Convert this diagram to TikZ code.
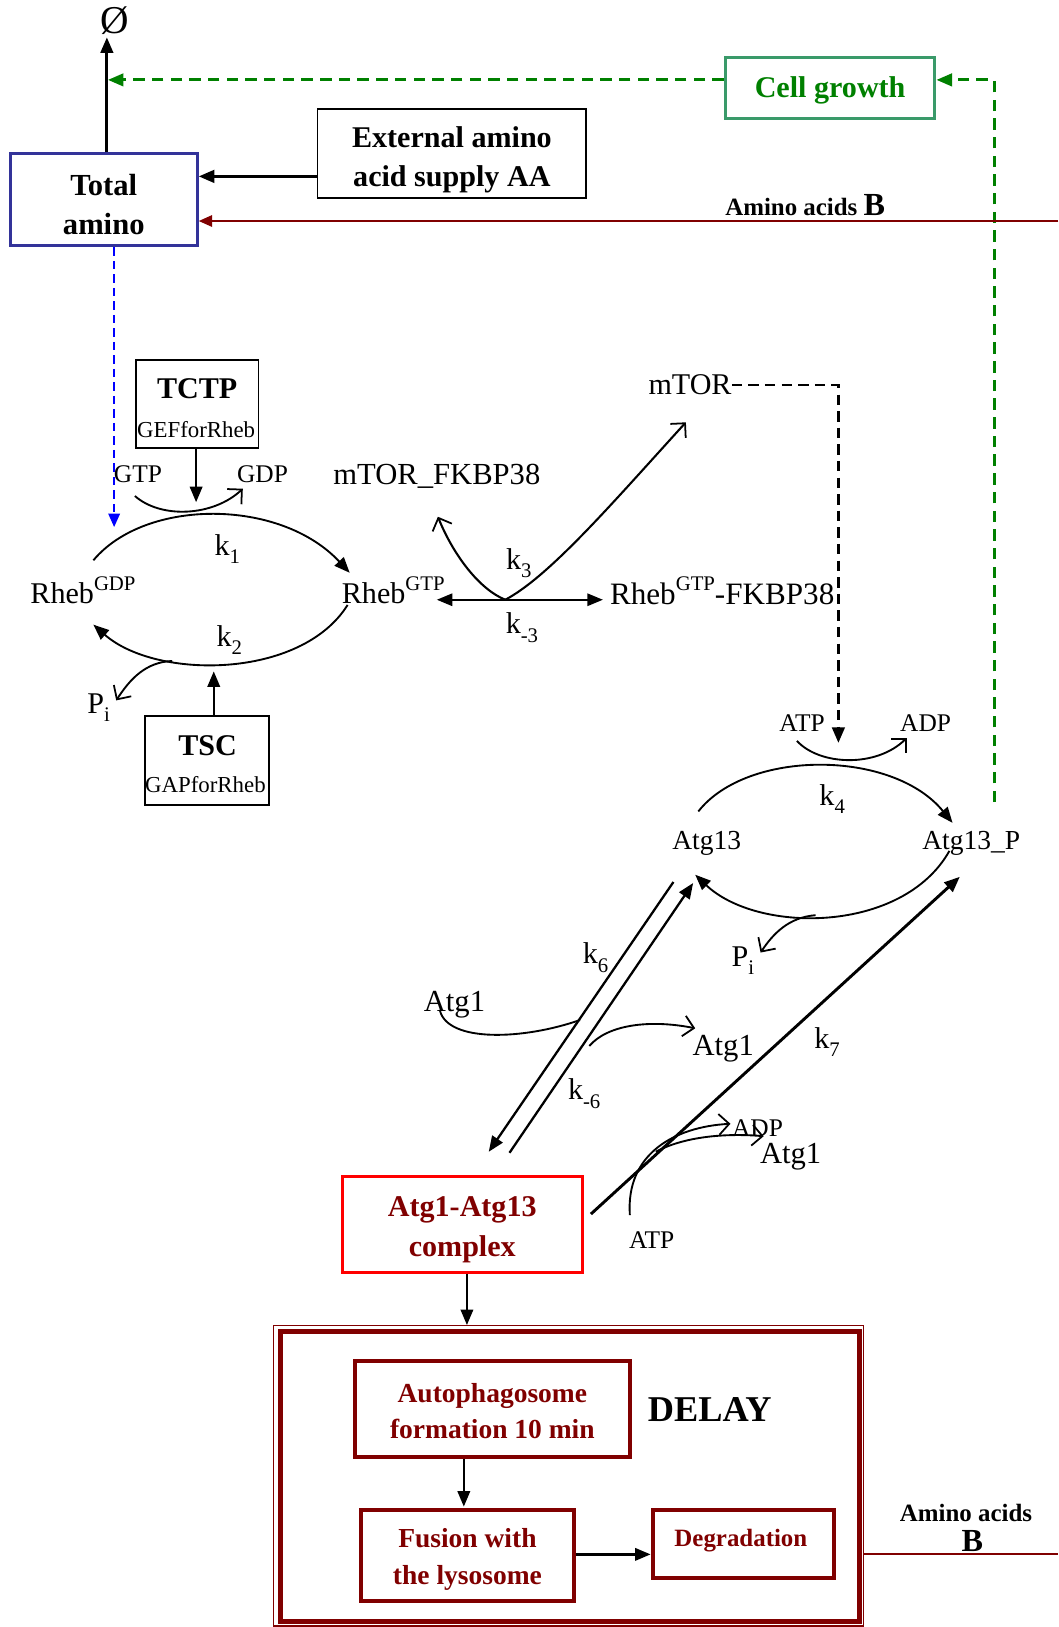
\documentclass[tikz,border=0pt]{standalone}
\usepackage{fontspec}
\setmainfont{Liberation Serif}
\usetikzlibrary{arrows.meta}
\definecolor{dred}{HTML}{800000}
\definecolor{tblue}{HTML}{333399}
\definecolor{ggreen}{HTML}{008000}
\definecolor{gbox}{HTML}{3A9A6A}
\newcommand\subs[1]{\raisebox{-0.28em}{\fontsize{20}{20}\selectfont #1}}
\newcommand\sups[1]{\raisebox{0.45em}{\fontsize{20}{20}\selectfont #1}}
\tikzset{
  lbl/.style={inner sep=0pt, font=\fontsize{29}{31}\selectfont},
  smalllbl/.style={inner sep=0pt, font=\fontsize{24.5}{26}\selectfont},
  rxn/.style={line width=1.8pt},
  filled/.style={-{Triangle[length=15pt,width=12pt]}},
  openarr/.style={-{Straight Barb[length=10pt,width=20pt,line width=1.7pt]}},
  bftext/.style={inner sep=0pt, align=center, font=\bfseries\fontsize{29}{38}\selectfont},
  enzbox/.style={draw, line width=1.6pt, inner sep=0pt},
  redbox/.style={draw=dred, inner sep=0pt, line width=4pt},
  redtext/.style={inner sep=0pt, align=center, text=dred, font=\bfseries\fontsize{26.5}{35}\selectfont},
  gdash/.style={ggreen, line width=2.8pt, dash pattern=on 11pt off 7pt, -{Triangle[length=15pt,width=12pt]}},
}
\begin{document}
\begin{tikzpicture}[x=1pt,y=-1pt]
\useasboundingbox (0,0) rectangle (1020,1568);
% ---------- top part
\node[inner sep=0pt, font=\fontsize{38}{38}\selectfont] (sink) at (111,20) {Ø};
\node[draw=tblue, line width=3pt, minimum width=180pt, minimum height=89pt, inner sep=0pt] (total) at (100,192.5) {};
\node[bftext, font=\bfseries\fontsize{29.5}{38}\selectfont] (totalT) at (100,197) {Total\\amino};
\node[draw, line width=1.8pt, minimum width=259pt, minimum height=86pt, inner sep=0pt] (ext) at (435.5,148) {};
\node[bftext, font=\bfseries\fontsize{29}{37}\selectfont] (extT) at (435.5,154) {External amino\\acid supply AA};
\node[draw=gbox, line width=3pt, minimum width=202pt, minimum height=59pt, inner sep=0pt] (cg) at (800,84.5) {};
\node[bftext, text=ggreen] (cgT) at (800,87) {Cell growth};
\coordinate (sinkfoot) at (103,36);
\draw[line width=2.8pt, filled] (total.north -| sinkfoot) -- (sinkfoot);
\draw[line width=2.8pt, filled] (ext.west |- 0,170) -- (total.east |- 0,170);
\coordinate (gtarget) at (104,77);
\draw[gdash] (cg.west |- gtarget) -- (gtarget);
\coordinate (gstart) at (958,773);
\draw[gdash] (gstart) -- (gstart |- gtarget) -- (cg.east |- gtarget);
\coordinate (redin) at (1020,213);
\draw[dred, line width=2pt, -{Triangle[length=13pt,width=11pt]}] (redin) -- (redin -| total.east);
\node[inner sep=0pt, font=\bfseries] (aab) at (776,198) {\fontsize{24}{26}\selectfont Amino acids \fontsize{31}{31}\selectfont B};
\coordinate (bluetip) at (110,508);
\draw[blue, line width=2pt, dash pattern=on 8pt off 5pt, -{Triangle[length=13pt,width=11pt]}] (total.south -| bluetip) -- (bluetip);
% ---------- Rheb cycle
\node[enzbox, minimum width=118pt, minimum height=85pt] (tctp) at (190,389.5) {};
\node[inner sep=0pt, font=\bfseries\fontsize{29}{31}\selectfont] (tctpname) at (190,375) {TCTP};
\node[inner sep=0pt, font=\fontsize{22}{24}\selectfont] (tctprole) at (189,414) {GEFforRheb};
\node[enzbox, minimum width=119pt, minimum height=86pt] (tsc) at (199.5,733) {};
\node[inner sep=0pt, font=\bfseries\fontsize{29}{31}\selectfont] (tscname) at (200,719) {TSC};
\node[inner sep=0pt, font=\fontsize{22}{24}\selectfont] (tscrole) at (198,756) {GAPforRheb};
\node[smalllbl] (gtp) at (133,457) {GTP};
\node[smalllbl] (gdp) at (253,457) {GDP};
\node[lbl] (rgdp) at (80,569) {Rheb\sups{GDP}};
\node[lbl] (rgtp) at (379,569) {Rheb\sups{GTP}};
\node[lbl] (k1) at (219,529) {k\subs{1}};
\node[lbl] (k2) at (221,617) {k\subs{2}};
\node[lbl] (pi1) at (95,682) {P\subs{i}};
\coordinate (tctpTip) at (189,484);
\draw[line width=2.2pt, filled] (tctpTip |- tctp.south) -- (tctpTip);
\coordinate (tscTip) at (206,647);
\draw[line width=2.2pt, filled] (tscTip |- tsc.north) -- (tscTip);
\coordinate (gtpS) at (130,478);
\coordinate (gdpE) at (234,471);
\draw[rxn, openarr] (gtpS) .. controls (155,500) and (205,498) .. (gdpE);
\coordinate (up1S) at (90,540);
\coordinate (up1E) at (337,552);
\draw[rxn, filled] (up1S) .. controls (140,480) and (270,480) .. (up1E);
\coordinate (lo1S) at (335,583);
\coordinate (lo1E) at (90,602);
\draw[rxn, filled] (lo1S) .. controls (290,655) and (150,655) .. (lo1E);
\coordinate (pi1S) at (166,637);
\coordinate (pi1E) at (112,675);
\draw[rxn, openarr] (pi1S) .. controls (140,638) and (125,655) .. (pi1E);
% ---------- FKBP38 branch
\node[lbl, font=\fontsize{29.5}{31}\selectfont] (mfk) at (421,459) {mTOR\_FKBP38};
\node[lbl] (mtor) at (665,371) {mTOR};
\node[lbl, font=\fontsize{30}{31}\selectfont] (rgf) at (696,569) {Rheb\sups{GTP}-FKBP38};
\node[lbl] (k3) at (500,543) {k\subs{3}};
\node[lbl] (km3) at (503,605) {k\subs{-3}};
\coordinate (k3c) at (487,578);
\coordinate (k3L) at (421,578);
\coordinate (k3R) at (581,578);
\draw[rxn, filled] (k3c) -- (k3L);
\draw[rxn, filled] (k3c) -- (k3R);
\coordinate (mfkTip) at (422,498);
\draw[line width=2pt, openarr] (k3c) .. controls (462,568) and (437,535) .. (mfkTip);
\coordinate (mtorTip) at (661,407);
\draw[line width=2pt, openarr] (k3c) .. controls (530,555) and (590,485) .. (mtorTip);
\coordinate (mdTip) at (808,716);
\draw[line width=2.8pt, dash pattern=on 10pt off 6pt, -{Triangle[length=15pt,width=12pt]}] (mtor.east) -- (mtor.east -| mdTip) -- (mdTip);
% ---------- Atg13 cycle
\node[smalllbl] (atp1) at (773,697) {ATP};
\node[smalllbl] (adp1) at (892,697) {ADP};
\node[lbl, font=\fontsize{26.5}{28}\selectfont] (atg13) at (681,813) {Atg13};
\node[lbl, font=\fontsize{26.5}{28}\selectfont] (atg13p) at (936,813) {Atg13\_P};
\node[lbl] (k4) at (802,770) {k\subs{4}};
\node[lbl] (pi2) at (716,926) {P\subs{i}};
\coordinate (atpS) at (768,714);
\coordinate (adpE) at (874,711);
\draw[rxn, openarr] (atpS) .. controls (790,738) and (845,740) .. (adpE);
\coordinate (up2S) at (673,782);
\coordinate (up2E) at (918,793);
\draw[rxn, filled] (up2S) .. controls (720,722) and (860,722) .. (up2E);
\coordinate (lo2S) at (915,820);
\coordinate (lo2E) at (670,843);
\draw[rxn, filled] (lo2S) .. controls (870,900) and (730,900) .. (lo2E);
\coordinate (pi2S) at (786,882);
\coordinate (pi2E) at (733,918);
\draw[rxn, openarr] (pi2S) .. controls (760,884) and (745,900) .. (pi2E);
% ---------- Atg1 binding
\node[lbl] (k6) at (574,923) {k\subs{6}};
\node[lbl] (km6) at (563,1054) {k\subs{-6}};
\node[lbl, font=\fontsize{29.5}{31}\selectfont] (atg1a) at (438,968) {Atg1};
\node[lbl, font=\fontsize{29.5}{31}\selectfont] (atg1b) at (697,1011) {Atg1};
\node[lbl] (k7) at (797,1004) {k\subs{7}};
\node[smalllbl] (adp2) at (730,1087) {ADP};
\node[lbl, font=\fontsize{29.5}{31}\selectfont] (atg1c) at (762,1115) {Atg1};
\node[smalllbl] (atp2) at (628,1195) {ATP};
\node[draw=red, line width=3pt, minimum width=231pt, minimum height=92pt, inner sep=0pt] (cplx) at (445.5,1180) {};
\node[redtext, font=\bfseries\fontsize{29}{38}\selectfont] (cplxT) at (445.5,1185) {Atg1-Atg13\\complex};
\coordinate (lAs) at (649,850);
\coordinate (lAe) at (471,1110);
\draw[line width=2.2pt, filled] (lAs) -- (lAe);
\coordinate (lBs) at (491,1111);
\coordinate (lBe) at (668,851);
\draw[line width=2.2pt, filled] (lBs) -- (lBe);
\coordinate (a1S) at (424,974);
\coordinate (a1E) at (559,983);
\draw[rxn] (a1S) .. controls (432,1005) and (505,1002) .. (a1E);
\coordinate (a2S) at (568,1008);
\coordinate (a2E) at (670,991);
\draw[rxn, openarr] (a2S) .. controls (585,988) and (625,982) .. (a2E);
\coordinate (k7e) at (925,845);
\draw[line width=2.8pt, filled] (cplx.east |- 0,1170) ++(7,0) -- (k7e);
\coordinate (atpTop) at (607,1171);
\coordinate (adp2E) at (704,1083);
\draw[rxn, openarr] (atpTop) .. controls (603,1112) and (650,1086) .. (adp2E);
\coordinate (br2S) at (632,1110);
\coordinate (atg1cE) at (736,1095);
\draw[rxn, openarr] (br2S) .. controls (660,1095) and (700,1092) .. (atg1cE);
% ---------- delay block
\node[draw=dred, line width=1pt, minimum width=568pt, minimum height=290pt, inner sep=0pt] (outer) at (548,1422) {};
\node[draw=dred, line width=5pt, minimum width=558pt, minimum height=280pt, inner sep=0pt] (inner) at (549,1423) {};
\coordinate (delayIn) at (450,1277);
\draw[line width=2.2pt, filled] (cplx.south -| delayIn) -- (delayIn);
\node[redbox, minimum width=265pt, minimum height=92pt] (auto) at (474.5,1358) {};
\node[redtext] (autoT) at (474.5,1360) {Autophagosome\\formation 10 min};
\node[inner sep=0pt, font=\bfseries\fontsize{35}{36}\selectfont] (delay) at (684,1358) {DELAY};
\node[redbox, minimum width=205pt, minimum height=88pt] (fus) at (450.5,1499) {};
\node[redtext] (fusT) at (450.5,1503) {Fusion with\\the lysosome};
\node[redbox, minimum width=175pt, minimum height=66pt] (deg) at (716.5,1488) {};
\node[inner sep=0pt, text=dred, font=\bfseries\fontsize{24}{26}\selectfont] (degt) at (714,1485) {Degradation};
\coordinate (fusTip) at (447,1452);
\draw[line width=2.2pt, filled] (auto.south -| fusTip) -- (fusTip);
\draw[line width=2.2pt, filled] (fus.east |- 0,1498) -- (deg.west |- 0,1498);
\coordinate (redout) at (1020,1498);
\draw[dred, line width=2pt] (outer.east |- redout) -- (redout);
\node[inner sep=0pt, font=\bfseries\fontsize{24}{26}\selectfont] (aab2) at (931,1458) {Amino acids};
\node[inner sep=0pt, font=\bfseries\fontsize{31}{31}\selectfont] (aab2B) at (937,1485) {B};
\end{tikzpicture}
\end{document}
